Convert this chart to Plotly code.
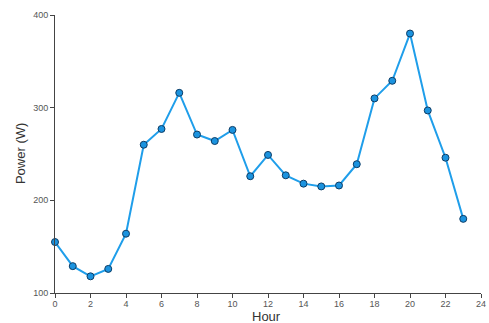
import plotly.graph_objects as go

hours = list(range(24))
power = [155, 129, 118, 126, 164, 260, 277, 316, 271, 264, 276, 226,
         249, 227, 218, 215, 216, 239, 310, 329, 380, 297, 246, 180]

FONT = "Liberation Sans, Arial, sans-serif"

fig = go.Figure()
fig.add_trace(go.Scatter(
    x=hours, y=power, mode="lines+markers",
    line=dict(color="#1f9eea", width=2),
    marker=dict(size=7, color="#1b93df", line=dict(color="#0d3d66", width=1)),
    cliponaxis=False,
))

axis_common = dict(
    showgrid=False, zeroline=False, showline=True, linecolor="#444444", linewidth=1,
    ticks="outside", ticklen=4, tickcolor="#444444", automargin=False,
    tickfont=dict(family=FONT, size=9, color="#555555"),
)

fig.update_layout(
    width=489, height=323,
    margin=dict(l=55, r=8, t=15, b=30, autoexpand=False),
    paper_bgcolor="white", plot_bgcolor="white",
    showlegend=False,
    xaxis=dict(range=[0, 24], dtick=2, tick0=0, ticklabelstandoff=-2, **axis_common),
    yaxis=dict(range=[100, 400], dtick=100, tick0=100, **axis_common),
    annotations=[
        dict(text="Hour", xref="paper", yref="paper", x=0.497, y=-0.086,
             xanchor="center", yanchor="middle", showarrow=False,
             font=dict(family=FONT, size=13, color="#333333")),
        dict(text="Power (W)", xref="paper", yref="paper", x=-0.082, y=0.5,
             xanchor="center", yanchor="middle", textangle=-90, showarrow=False,
             font=dict(family=FONT, size=13, color="#333333")),
    ],
)

fig.write_html("out.html", config={"displayModeBar": False},
               post_script="document.body.style.margin='0';document.body.style.overflow='hidden';")
